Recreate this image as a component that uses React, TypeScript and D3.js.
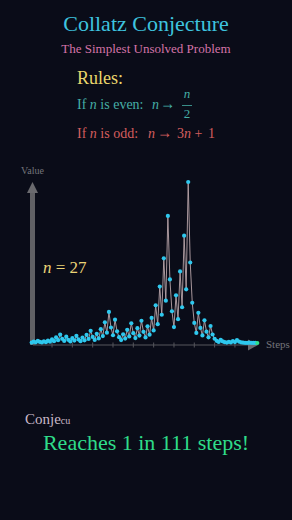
import React from "react";
import * as d3 from "d3";

const steps: number[] = Array.from({ length: 112 }, (_, i) => i);
const values: number[] = [
  27, 82, 41, 124, 62, 31, 94, 47, 142, 71, 214, 107, 322, 161, 484, 242, 121, 364, 182, 91,
  274, 137, 412, 206, 103, 310, 155, 466, 233, 700, 350, 175, 526, 263, 790, 395, 1186, 593, 1780, 890,
  445, 1336, 668, 334, 167, 502, 251, 754, 377, 1132, 566, 283, 850, 425, 1276, 638, 319, 958, 479, 1438,
  719, 2158, 1079, 3238, 1619, 4858, 2429, 7288, 3644, 1822, 911, 2734, 1367, 4102, 2051, 6154, 3077, 9232, 4616, 2308,
  1154, 577, 1732, 866, 433, 1300, 650, 325, 976, 488, 244, 122, 61, 184, 92, 46, 23, 70, 35, 106,
  53, 160, 80, 40, 20, 10, 5, 16, 8, 4, 2, 1,
];
const tickSteps: number[] = [10, 20, 30, 40, 50, 60, 70, 80, 90, 100];

const W = 292;
const H = 520;
const BG = "#0a0c18";

export default function App() {
  const x = d3.scaleLinear().domain([0, 111]).range([31.7, 257.3]);
  const y = d3.scaleLinear().domain([0, 9232]).range([343, 182]);
  const line = d3
    .line<number>()
    .x((_, i) => x(steps[i]))
    .y((d) => y(d));
  const axisY = 345;
  const serif = "'Liberation Serif', 'Times New Roman', 'DejaVu Serif', serif";
  const teal = "#45aea6";
  const red = "#d45e5e";
  return (
    <svg
      width={W}
      height={H}
      style={{ position: "absolute", left: 0, top: 0, background: BG }}
      fontFamily={serif}
    >
      <rect x={0} y={0} width={W} height={H} fill={BG} />
      <text x={146} y={31} textAnchor="middle" fontSize={22} fill="#3ec3df">
        Collatz Conjecture
      </text>
      <text x={146} y={53} textAnchor="middle" fontSize={13} fill="#d574a8">
        The Simplest Unsolved Problem
      </text>
      <text x={77} y={84} fontSize={18} fill="#ead66c">
        Rules:
      </text>

      {/* even rule */}
      <g fill={teal} fontSize={14}>
        <text x={77} y={109}>
          If <tspan fontStyle="italic">n</tspan> is even:
        </text>
        <text x={152} y={109} fontStyle="italic">n</text>
        <text x={160} y={109} fontSize={18} textLength={15} lengthAdjust="spacingAndGlyphs">→</text>
        <text x={187} y={98} textAnchor="middle" fontSize={13} fontStyle="italic">n</text>
        <line x1={182} x2={192} y1={105.5} y2={105.5} stroke={teal} strokeWidth={0.8} />
        <text x={187} y={118} textAnchor="middle" fontSize={13}>2</text>
      </g>

      {/* odd rule */}
      <g fill={red} fontSize={14}>
        <text x={77} y={138}>
          If <tspan fontStyle="italic">n</tspan> is odd:
        </text>
        <text x={148} y={138} fontStyle="italic">n</text>
        <text x={157} y={138} fontSize={18} textLength={15} lengthAdjust="spacingAndGlyphs">→</text>
        <text x={177} y={138}>
          3<tspan fontStyle="italic">n</tspan>
        </text>
        <text x={198.5} y={138} textAnchor="middle">+</text>
        <text x={208} y={138}>1</text>
      </g>

      {/* y axis */}
      <rect x={30} y={192} width={5} height={axisY - 192} fill="#6a6a6e" opacity={0.9} />
      <path d={`M${32.5},182 L${38},193 L${27},193 Z`} fill="#6a6a6e" />
      <text x={32.5} y={174} textAnchor="middle" fontSize={10} fill="#74747a">
        Value
      </text>

      {/* x axis */}
      <line x1={33} x2={249} y1={axisY} y2={axisY} stroke="#56565c" strokeWidth={1} />
      {tickSteps.map((t) => (
        <line key={t} x1={x(t)} x2={x(t)} y1={axisY - 2.5} y2={axisY + 2.5} stroke="#56565c" strokeWidth={1} />
      ))}
      <path d={`M248,339.5 L258,345 L248,350.5 Z`} fill="#6a6a6e" />
      <text x={266} y={348} fontSize={11} fill="#74747a">
        Steps
      </text>

      <text x={43} y={273} fontSize={17} fill="#ecd476">
        <tspan fontStyle="italic">n</tspan> = 27
      </text>

      {/* data */}
      <path d={line(values) || ""} fill="none" stroke="#b8a4a8" strokeWidth={1} opacity={0.9} />
      {values.map((v, i) => (
        <circle
          key={i}
          cx={x(steps[i])}
          cy={y(v)}
          r={2.1}
          fill={i === values.length - 1 ? "#2fe08c" : "#2ec8ee"}
        />
      ))}

      <text x={25} y={424} fontSize={15} fill="#c9b9c9">
        Conje<tspan fontSize={10}>cu</tspan>
      </text>
      <text x={146} y={450} textAnchor="middle" fontSize={22} fill="#2fdc8a">
        Reaches 1 in 111 steps!
      </text>
    </svg>
  );
}
